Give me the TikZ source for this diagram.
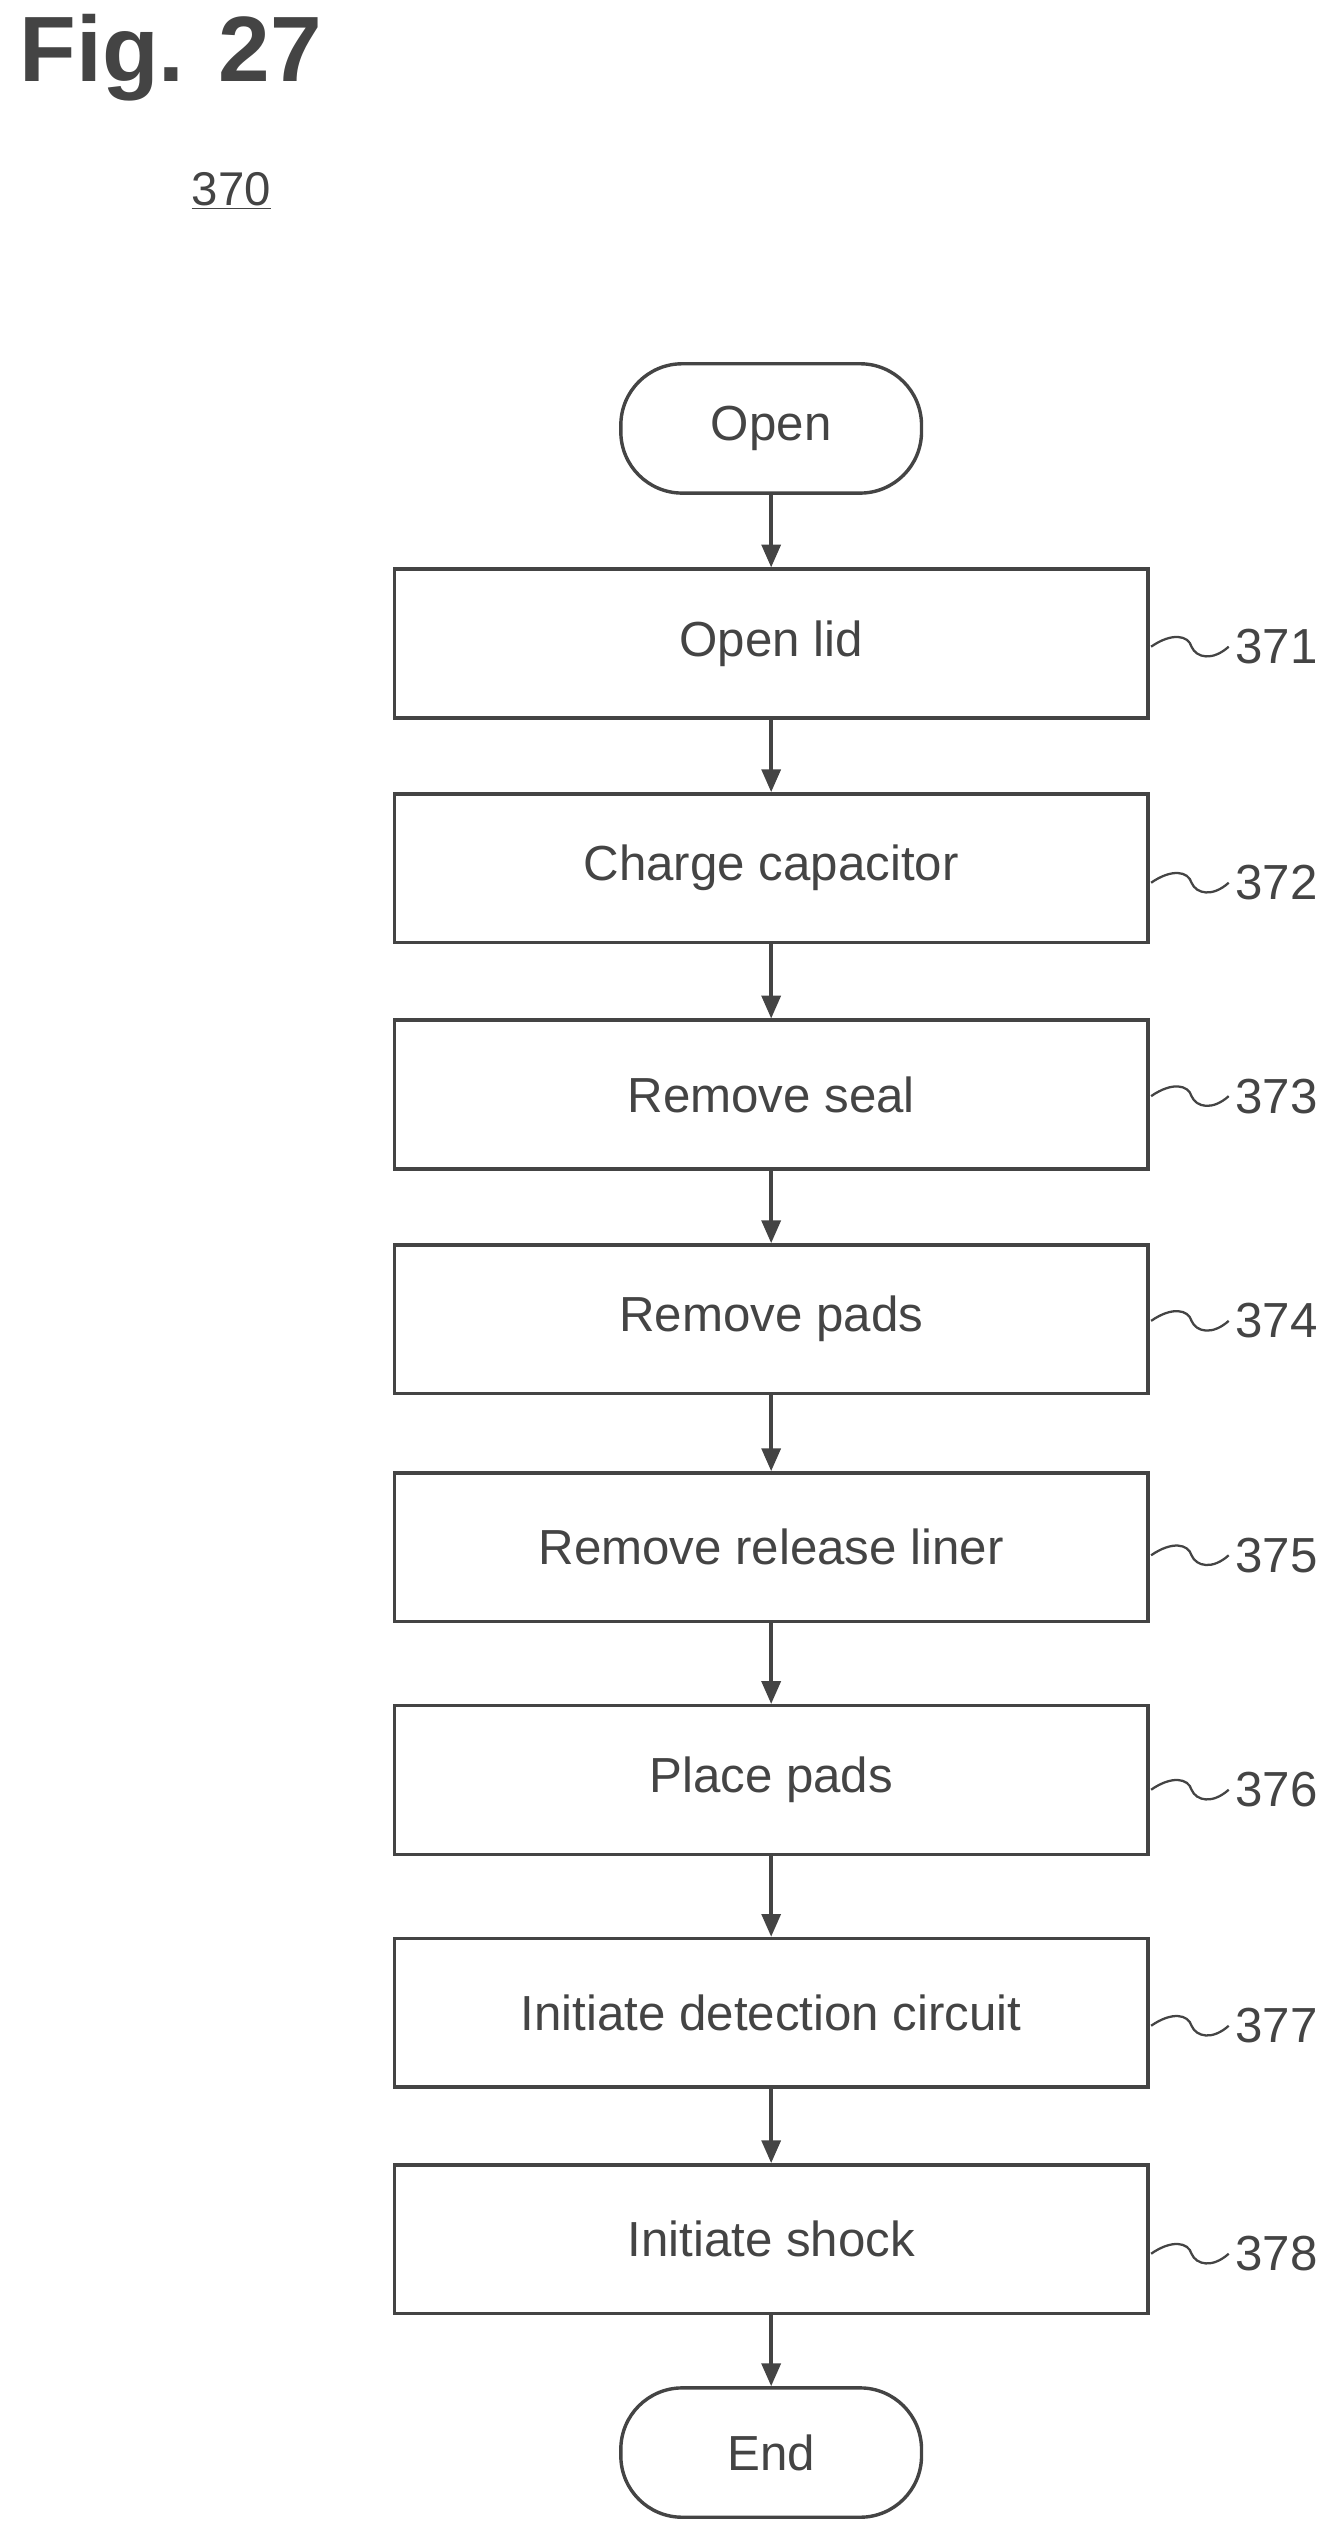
\documentclass[tikz,border=0pt]{standalone}
\usepackage{fontspec}
\setmainfont{Liberation Sans}
\usetikzlibrary{arrows.meta}
\definecolor{ink}{HTML}{444444}
\begin{document}
\begin{tikzpicture}[x=0.03cm,y=-0.03cm,
  stepbox/.style={draw=ink,line width=1.8pt,minimum width=466*0.03cm,minimum height=92*0.03cm,font=\fontsize{26}{30}\selectfont,text=ink},
  term/.style={draw=ink,line width=1.8pt,rounded corners=38*0.03cm,minimum width=186*0.03cm,minimum height=80*0.03cm,font=\fontsize{26}{30}\selectfont,text=ink},
  conn/.style={draw=ink,line width=1.8pt,-{Triangle[length=12pt,width=10pt]}},
  lbl/.style={font=\fontsize{26}{30}\selectfont,text=ink,anchor=west},
  sq/.style={draw=ink,line width=1.2pt}]
\useasboundingbox (0,0) rectangle (830,1568);
\node[anchor=west,font=\fontsize{49}{56}\selectfont\bfseries,text=ink] (fig) at (8,36) {Fig. 27};
\node[font=\fontsize{25}{28}\selectfont,text=ink] (ref) at (143,118) {\underline{370}};
\node[term] (open) at (477,265) {Open};
\node[stepbox] (b1) at (477,398) {Open lid};
\node[stepbox] (b2) at (477,537) {Charge capacitor};
\node[stepbox] (b3) at (477,677) {Remove seal};
\node[stepbox] (b4) at (477,816) {Remove pads};
\node[stepbox] (b5) at (477,957) {Remove release liner};
\node[stepbox] (b6) at (477,1101) {Place pads};
\node[stepbox] (b7) at (477,1245) {Initiate detection circuit};
\node[stepbox] (b8) at (477,1385) {Initiate shock};
\node[term] (end) at (477,1517) {End};
\draw[conn] (open) -- (b1);
\foreach \a/\b in {b1/b2,b2/b3,b3/b4,b4/b5,b5/b6,b6/b7,b7/b8,b8/end} \draw[conn] (\a) -- (\b);
\foreach \n/\y/\t in {1/400/371,2/546/372,3/678/373,4/817/374,5/962/375,6/1107/376,7/1253/377,8/1394/378}{
  \coordinate (s\n) at (712,\y);
  \node[lbl] (l\n) at (760,\y) {\t};
  \draw[sq] (s\n) .. controls (725,\y-9) and (735,\y-7) .. (737,\y) .. controls (740,\y+7) and (750,\y+9) .. (l\n.west);
}
\end{tikzpicture}
\end{document}
